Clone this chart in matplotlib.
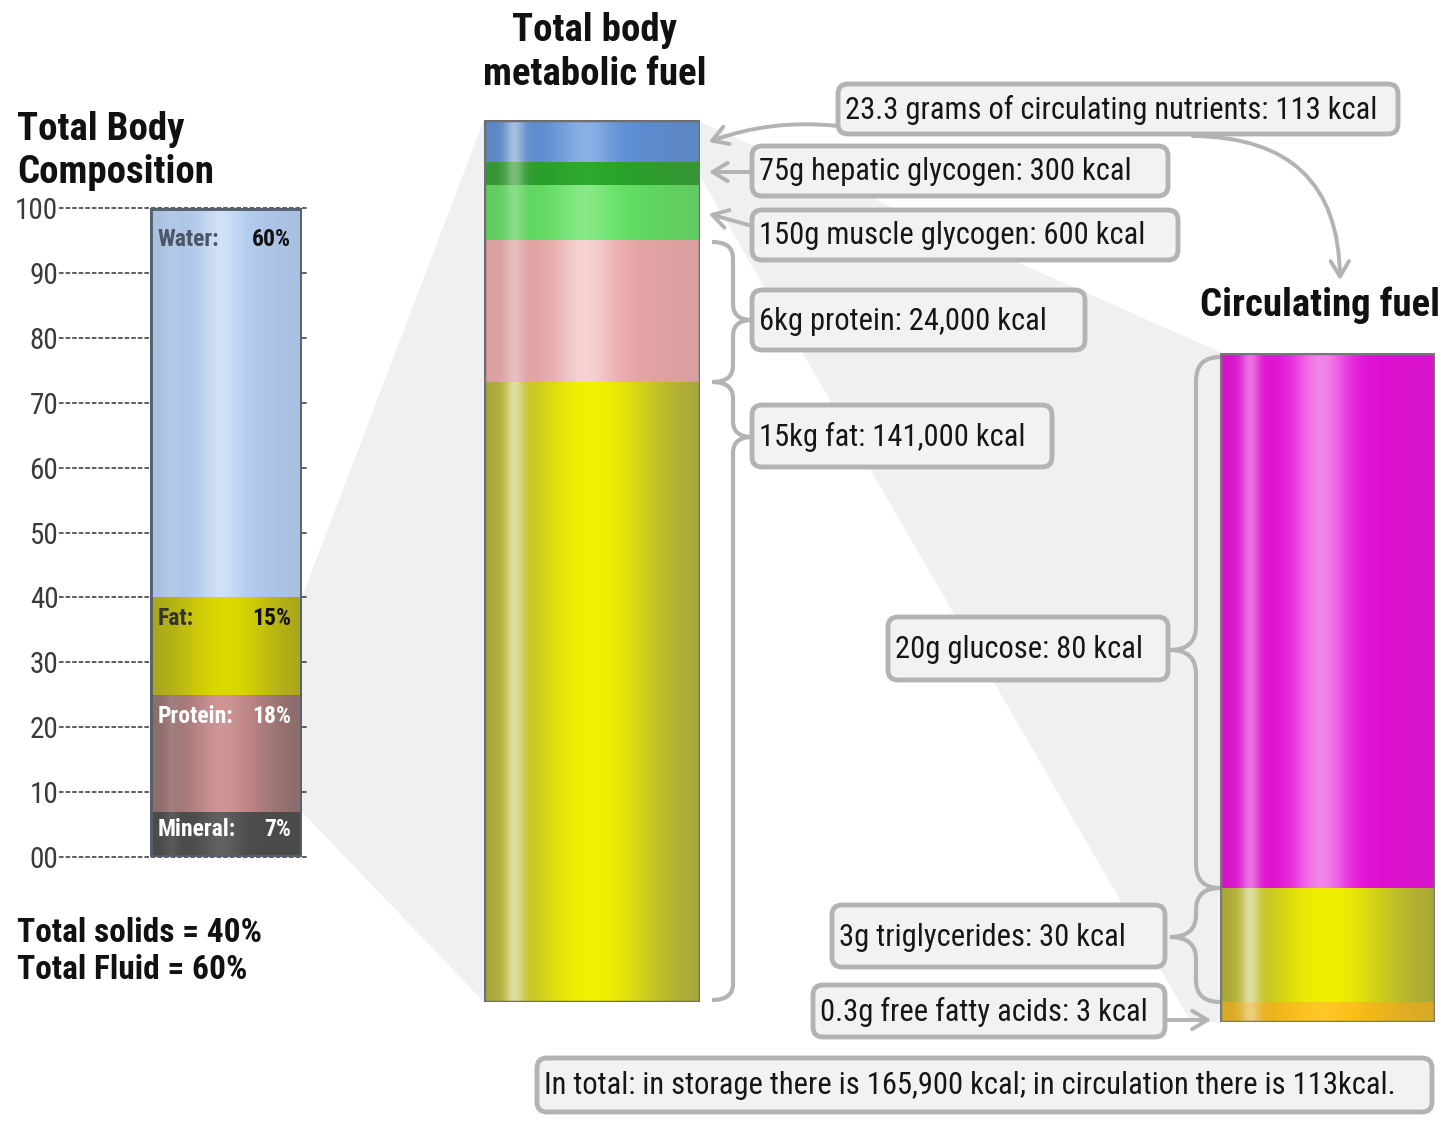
import numpy as np
import matplotlib.pyplot as plt
import matplotlib.colors as mcolors
from matplotlib import font_manager as fm
from matplotlib.patches import FancyBboxPatch, Polygon, PathPatch, FancyArrowPatch, Rectangle
from matplotlib.path import Path

W, H = 1441, 1121

# ─── fonts: look for a narrow / condensed sans ─────────────────────────
names = sorted({f.name for f in fm.fontManager.ttflist})
prefer = ['Liberation Sans Narrow', 'Arial Narrow', 'Roboto Condensed', 'Noto Sans Condensed',
          'Open Sans Condensed', 'DejaVu Sans Condensed']
narrow = [n for n in prefer if n in names]
narrow += [n for n in names if ('Narrow' in n or 'Condensed' in n) and n not in narrow
           and 'Mono' not in n and 'Serif' not in n]
NARROW = narrow[0] if narrow else 'Liberation Sans'
FS = 1.0 if narrow else 0.84
plt.rcParams['font.family'] = [NARROW, 'DejaVu Sans']

# ─── data ──────────────────────────────────────────────────────────────
# total body composition (% of body mass), bottom -> top
comp_names = ['Mineral', 'Protein', 'Fat', 'Water']
comp_pct = [7, 18, 15, 60]
comp_colors = ['#4b4b4b', '#c98a8a', '#dcd900', '#b2ccef']
comp_ticks = [0, 10, 20, 30, 40, 50, 60, 70, 80, 90, 100]
comp_ticklabels = ['00', '10', '20', '30', '40', '50', '60', '70', '80', '90', '100']

# total body metabolic fuel (share of drawn column), bottom -> top
fuel_names = ['fat', 'protein', 'muscle glycogen', 'hepatic glycogen', 'circulating']
fuel_share = [70.3, 16.1, 6.2, 2.6, 4.8]
fuel_colors = ['#f3f100', '#eba7a7', '#5fe25f', '#23a523', '#5a8ed8']

# circulating fuel (share of drawn column), bottom -> top
circ_names = ['free fatty acids', 'triglycerides', 'glucose']
circ_share = [3.0, 17.0, 80.0]
circ_colors = ['#ffc00f', '#f1ef00', '#e50ad6']

box_texts = [
    '23.3 grams of circulating nutrients: 113 kcal',
    '75g hepatic glycogen: 300 kcal',
    '150g muscle glycogen: 600 kcal',
    '6kg protein: 24,000 kcal',
    '15kg fat: 141,000 kcal',
    '20g glucose: 80 kcal',
    '3g triglycerides: 30 kcal',
    '0.3g free fatty acids: 3 kcal',
    'In total: in storage there is 165,900 kcal; in circulation there is 113kcal.',
]

GREY = '#b3b3b3'

fig = plt.figure(figsize=(W / 100, H / 100), dpi=100)
fig.patch.set_facecolor('white')

# overlay axes in pixel coordinates for the decorations
ov = fig.add_axes([0, 0, 1, 1], zorder=0)
ov.set_xlim(0, W)
ov.set_ylim(H, 0)
ov.axis('off')


def px_axes(x0, y0, x1, y1):
    a = fig.add_axes([x0 / W, 1 - y1 / H, (x1 - x0) / W, (y1 - y0) / H], zorder=2)
    a.patch.set_alpha(0)
    return a


def shade(ax, bars, colors, dim, gloss, glow, mix=0.42):
    t = np.linspace(0, 1, 300)
    for p, col, d, g, gw in zip(bars, colors, dim, gloss, glow):
        base = np.array(mcolors.to_rgb(col))
        s = 1 - d * (1 - np.exp(-((t - 0.5) / 0.33) ** 2))
        rgb = base[None, :] * s[:, None] + mix * (1 - s[:, None])
        hl = g * np.exp(-((t - 0.14) / 0.045) ** 2) + gw * np.exp(-((t - 0.47) / 0.13) ** 2)
        hl = np.clip(hl, 0, 1)[:, None]
        rgb = rgb * (1 - hl) + hl
        x, y, w, h = p.get_x(), p.get_y(), p.get_width(), p.get_height()
        ax.imshow(rgb[None, :, :], extent=[x, x + w, y, y + h], aspect='auto',
                  interpolation='bilinear', zorder=2)


# ─── background wedges ────────────────────────────────────────────────
ov.add_patch(Polygon([(302, 597), (484, 120), (484, 1002), (302, 812)],
                     closed=True, fc='#f0f0f0', ec='none', zorder=0))
ov.add_patch(Polygon([(700, 122), (1222, 353), (1222, 1022), (1191, 1022), (700, 176)],
                     closed=True, fc='#f0f0f0', ec='none', zorder=0))

# ─── 1. total body composition ────────────────────────────────────────
ax1 = px_axes(150, 208, 302, 857)
bottoms = np.concatenate([[0], np.cumsum(comp_pct)[:-1]])
bars1 = ax1.bar(0, comp_pct, bottom=bottoms, width=1, color=comp_colors, zorder=1)
shade(ax1, bars1, comp_colors, dim=[0.2, 0.55, 0.4, 0.1],
      gloss=[0.08, 0.08, 0.0, 0.1], glow=[0.12, 0.1, 0.0, 0.4], mix=0.3)
ax1.add_patch(Rectangle((-0.5, 0), 1, 100, fill=False, ec='#56606e', lw=3.5, zorder=3))
ax1.hlines(comp_ticks, -0.6, 1.04, transform=ax1.get_yaxis_transform(), colors='#333333',
           lw=1.1, linestyles=(0, (3, 1.3)), zorder=0, clip_on=False)
ax1.set_xlim(-0.5, 0.5)
ax1.set_ylim(0, 100)
ax1.set_yticks(comp_ticks, comp_ticklabels)
ax1.tick_params(axis='y', length=0, pad=66, labelsize=21 * FS, labelcolor='#3a3a3a')
ax1.set_xticks([])
for sp in ax1.spines.values():
    sp.set_visible(False)

label_cols = [('white', 'white'), ('white', 'white'), ('#333333', '#111111'), ('#4a5566', '#111111')]
label_y = [4.2, 21.6, 36.8, 95.1]
for name, pct, (c1, c2), y in zip(comp_names, comp_pct, label_cols, label_y):
    ax1.text(-0.45, y, name + ':', ha='left', va='center', fontsize=17 * FS, fontweight='bold',
             color=c1, zorder=4)
    ax1.text(0.43, y, f'{pct}%', ha='right', va='center', fontsize=17 * FS, fontweight='bold',
             color=c2, zorder=4)

# ─── 2. total body metabolic fuel ─────────────────────────────────────
ax2 = px_axes(484, 120, 700, 1002)
bottoms = np.concatenate([[0], np.cumsum(fuel_share)[:-1]])
bars2 = ax2.bar(0, fuel_share, bottom=bottoms, width=1, color=fuel_colors, zorder=1)
shade(ax2, bars2, fuel_colors, dim=[0.62, 0.15, 0.2, 0.3, 0.2],
      gloss=[0.55, 0.3, 0.25, 0.35, 0.45], glow=[0.0, 0.5, 0.25, 0.05, 0.3])
ax2.add_patch(Rectangle((-0.5, 0), 1, 100, fill=False, ec='#6e6e6e', lw=2.5, zorder=3))
ax2.set_xlim(-0.5, 0.5)
ax2.set_ylim(0, 100)
ax2.axis('off')

# ─── 3. circulating fuel ──────────────────────────────────────────────
ax3 = px_axes(1220, 353, 1435, 1022)
bottoms = np.concatenate([[0], np.cumsum(circ_share)[:-1]])
bars3 = ax3.bar(0, circ_share, bottom=bottoms, width=1, color=circ_colors, zorder=1)
shade(ax3, bars3, circ_colors, dim=[0.3, 0.6, 0.12],
      gloss=[0.4, 0.55, 0.4], glow=[0.1, 0.0, 0.5])
ax3.add_patch(Rectangle((-0.5, 0), 1, 100, fill=False, ec='#787878', lw=2.5, zorder=3))
ax3.set_xlim(-0.5, 0.5)
ax3.set_ylim(0, 100)
ax3.axis('off')

# ─── labels in boxes ──────────────────────────────────────────────────
box_pos = [(838, 84, 1398, 134), (752, 146, 1168, 196), (752, 210, 1178, 260),
           (752, 290, 1085, 350), (752, 405, 1052, 467), (888, 617, 1168, 680),
           (832, 905, 1165, 967), (813, 985, 1165, 1037), (537, 1058, 1432, 1112)]
for txt, (x0, y0, x1, y1) in zip(box_texts, box_pos):
    ov.add_patch(FancyBboxPatch((x0, y0), x1 - x0, y1 - y0,
                                boxstyle='round,pad=0,rounding_size=10',
                                fc='#f2f2f2', ec=GREY, lw=3.5, zorder=3))
    ov.text(x0 + 7, (y0 + y1) / 2 + 1, txt, ha='left', va='center', fontsize=22 * FS,
            color='#161616', zorder=4)


# ─── braces ───────────────────────────────────────────────────────────
def brace(x_edge, x_spine, x_tip, y_top, y_tip, y_bot, r=16):
    verts = [(x_edge, y_top), (x_spine, y_top), (x_spine, y_top + r),
             (x_spine, y_tip - r), (x_spine, y_tip), (x_tip, y_tip),
             (x_spine, y_tip), (x_spine, y_tip + r),
             (x_spine, y_bot - r), (x_spine, y_bot), (x_edge, y_bot)]
    codes = [Path.MOVETO, Path.CURVE3, Path.CURVE3, Path.LINETO, Path.CURVE3, Path.CURVE3,
             Path.CURVE3, Path.CURVE3, Path.LINETO, Path.CURVE3, Path.CURVE3]
    ov.add_patch(PathPatch(Path(verts, codes), fill=False, ec=GREY, lw=3, zorder=2))


brace(712, 733, 752, 242, 320, 382)
brace(712, 733, 752, 382, 437, 1000)
brace(1220, 1196, 1170, 357, 650, 888, r=24)
brace(1220, 1196, 1170, 888, 937, 1002, r=22)

# ─── arrows ───────────────────────────────────────────────────────────
arrows = [((838, 126), (706, 143), 'arc3,rad=0.12'),
          ((752, 172), (706, 172), 'arc3,rad=0'),
          ((752, 226), (706, 213), 'arc3,rad=0'),
          ((1190, 136), (1340, 283), 'angle3,angleA=0,angleB=90'),
          ((1165, 1020), (1214, 1020), 'arc3,rad=0')]
for start, end, cs in arrows:
    ov.add_patch(FancyArrowPatch(start, end, connectionstyle=cs,
                                 arrowstyle='->,head_length=0.5,head_width=0.3',
                                 mutation_scale=22, color=GREY, lw=2.8, zorder=2))

# ─── titles ───────────────────────────────────────────────────────────
tkw = dict(fontsize=28 * FS, fontweight='bold', va='baseline', color='#111111')
ov.text(17, 140, 'Total Body', **tkw)
ov.text(17, 183, 'Composition', **tkw)
ov.text(595, 41, 'Total body', ha='center', **tkw)
ov.text(595, 85, 'metabolic fuel', ha='center', **tkw)
ov.text(1200, 316, 'Circulating fuel', **tkw)
skw = dict(fontsize=24 * FS, fontweight='bold', va='baseline', color='#111111')
ov.text(17, 942, 'Total solids = 40%', **skw)
ov.text(17, 979, 'Total Fluid = 60%', **skw)

fig.savefig('out.png', dpi=100, facecolor='white')
